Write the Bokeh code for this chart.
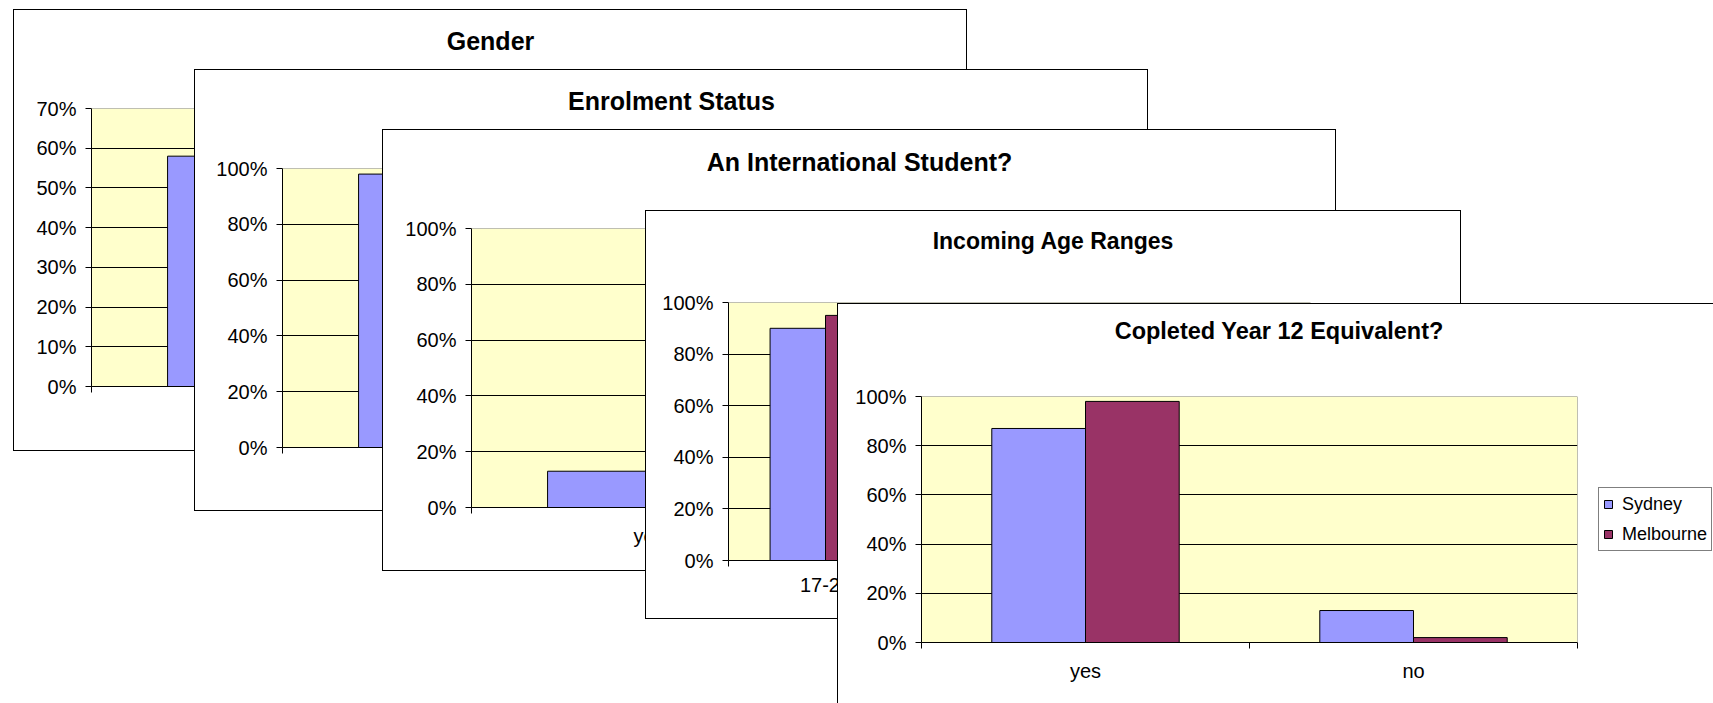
from bokeh.embed import file_html
from bokeh.resources import INLINE
from bokeh.plotting import figure
from bokeh.models import (Range1d, FixedTicker, NumeralTickFormatter, Div,
                          Legend, LegendItem, Span, Column)

# ---- survey results (share of respondents) ----
series_names = ["Sydney", "Melbourne"]

gender_title = "Gender"
gender_cats = ["female", "male"]
gender_sydney = [0.58, 0.42]
gender_melbourne = [0.61, 0.39]
gender_ticks = [0, 0.1, 0.2, 0.3, 0.4, 0.5, 0.6, 0.7]

enrol_title = "Enrolment Status"
enrol_cats = ["full-time", "part-time"]
enrol_sydney = [0.98, 0.02]
enrol_melbourne = [0.97, 0.03]

intl_title = "An International Student?"
intl_cats = ["yes", "no"]
intl_sydney = [0.13, 0.87]
intl_melbourne = [0.08, 0.92]

age_title = "Incoming Age Ranges"
age_cats = ["17-25", "26-35", "36+"]
age_sydney = [0.90, 0.08, 0.02]
age_melbourne = [0.95, 0.04, 0.01]

year12_title = "Copleted Year 12 Equivalent?"
year12_cats = ["yes", "no"]
year12_sydney = [0.87, 0.13]
year12_melbourne = [0.98, 0.02]

pct_ticks = [0, 0.2, 0.4, 0.6, 0.8, 1.0]

# ---- styling ----
SYD_COLOR = "#9999FF"
MEL_COLOR = "#993366"
PLOT_BG = "#FFFFCC"
FONT = "Liberation Sans"
LABEL_SIZE = "20px"
BAR_W = 1 / 3.5          # two bars per category, 150% gap

# canvas box (cx, cy, cw, ch), plot-area box (fl, ft, fr, fb),
# title centre (tx, ty) and title size, all in page pixels
GEOM = {
    "gender": dict(cx=14, cy=10, cw=952, ch=440, fl=91, ft=108, fr=799, fb=384,
                   tx=485.5, ty=36, ts=25),
    "enrol": dict(cx=195, cy=70, cw=952, ch=440, fl=282, ft=168, fr=990, fb=445,
                  tx=666.5, ty=96, ts=25),
    "intl": dict(cx=383, cy=130, cw=952, ch=440, fl=471, ft=228, fr=1179, fb=505,
                 tx=854.5, ty=156.5, ts=25),
    "age": dict(cx=646, cy=211, cw=814, ch=407, fl=728, ft=302, fr=1308, fb=558,
                tx=1048, ty=236, ts=23),
    "year12": dict(cx=838, cy=304, cw=None, ch=399, fl=921, ft=396, fr=1576, fb=641,
                   tx=1274, ty=325.5, ts=23.5),
}
LEGEND_GAP = 21   # space between plot area and legend box


def make_panel(title, cats, syd, mel, ticks, g, with_legend=False, full_border=True):
    n = len(cats)
    ymax = ticks[-1]
    if g["cw"] is None:
        # plot area fixed, canvas grows with the legend column on the right
        size = dict(frame_width=g["fr"] - g["fl"], frame_height=g["fb"] - g["ft"],
                    min_border_right=LEGEND_GAP)
    else:
        size = dict(width=g["cw"], height=g["ch"],
                    min_border_right=g["cx"] + g["cw"] - g["fr"])
    p = figure(x_range=Range1d(-0.5, n - 0.5), y_range=Range1d(0, ymax),
               output_backend="svg", toolbar_location=None, tools="",
               title=None, frame_align=False,
               min_border_left=g["fl"] - g["cx"],
               min_border_top=g["ft"] - g["cy"],
               min_border_bottom=g["cy"] + g["ch"] - g["fb"],
               background_fill_color=PLOT_BG, border_fill_color="white",
               outline_line_color=None, **size)

    xs_syd = [i - BAR_W / 2 for i in range(n)]
    xs_mel = [i + BAR_W / 2 for i in range(n)]
    r_syd = p.vbar(x=xs_syd, top=syd, bottom=0, width=BAR_W,
                   fill_color=SYD_COLOR, line_color="black", line_width=1)
    r_mel = p.vbar(x=xs_mel, top=mel, bottom=0, width=BAR_W,
                   fill_color=MEL_COLOR, line_color="black", line_width=1)

    # y axis
    yax = p.yaxis[0]
    yax.ticker = FixedTicker(ticks=ticks)
    yax.formatter = NumeralTickFormatter(format="0%")
    yax.axis_line_color = "black"
    yax.major_tick_line_color = "black"
    yax.major_tick_out = 6
    yax.major_tick_in = 0
    yax.minor_tick_out = 0
    yax.minor_tick_line_color = None
    yax.major_label_standoff = 9
    yax.major_label_text_font = FONT
    yax.major_label_text_font_size = LABEL_SIZE
    yax.major_label_text_color = "black"

    # category axis: labels at centres, ticks on category boundaries
    xax = p.xaxis[0]
    xax.ticker = FixedTicker(ticks=list(range(n)),
                             minor_ticks=[i - 0.5 for i in range(n + 1)])
    xax.major_label_overrides = {i: c for i, c in enumerate(cats)}
    xax.major_tick_line_color = None
    xax.major_tick_out = 0
    xax.major_tick_in = 0
    xax.minor_tick_line_color = "black"
    xax.minor_tick_out = 6
    xax.minor_tick_in = 0
    xax.axis_line_color = "black"
    xax.major_label_standoff = 11
    xax.major_label_text_font = FONT
    xax.major_label_text_font_size = LABEL_SIZE
    xax.major_label_text_color = "black"

    p.xgrid.visible = False
    p.ygrid.grid_line_color = "black"
    p.ygrid.grid_line_width = 1

    # plot area frame (top and right edges in grey)
    p.add_layout(Span(location=ymax, dimension="width", line_color="#808080", line_width=1))
    p.add_layout(Span(location=n - 0.5, dimension="height", line_color="#808080", line_width=1))

    if with_legend:
        leg = Legend(items=[LegendItem(label=series_names[0], renderers=[r_syd]),
                            LegendItem(label=series_names[1], renderers=[r_mel])],
                     location="left", orientation="vertical",
                     border_line_color="black", border_line_width=1,
                     background_fill_color="white", background_fill_alpha=1.0,
                     padding=4, margin=LEGEND_GAP, spacing=6,
                     glyph_width=10, glyph_height=10, label_height=24,
                     label_standoff=9, label_text_font=FONT,
                     label_text_font_size="18px", label_text_color="black")
        p.add_layout(leg, "right")

    border = ({"border": "1px solid black"} if full_border else
              {"border-top": "1px solid black", "border-left": "1px solid black"})
    p.styles = {"position": "absolute", "left": f"{g['cx'] - 1}px",
                "top": f"{g['cy'] - 1}px", "box-sizing": "content-box",
                "background": "white", **border}

    # chart title, centred on the chart box
    ts = g["ts"]
    line_h = round(ts * 1.2)
    head = Div(text=title, width=600, height=line_h,
               styles={"position": "absolute",
                       "left": f"{g['tx'] - 300}px",
                       "top": f"{g['ty'] - line_h / 2}px",
                       "text-align": "center", "white-space": "nowrap",
                       "font-family": FONT, "font-weight": "bold",
                       "font-size": f"{ts}px", "line-height": f"{line_h}px",
                       "color": "black"})
    return [p, head]


parts = []
parts += make_panel(gender_title, gender_cats, gender_sydney, gender_melbourne,
                    gender_ticks, GEOM["gender"])
parts += make_panel(enrol_title, enrol_cats, enrol_sydney, enrol_melbourne,
                    pct_ticks, GEOM["enrol"])
parts += make_panel(intl_title, intl_cats, intl_sydney, intl_melbourne,
                    pct_ticks, GEOM["intl"])
parts += make_panel(age_title, age_cats, age_sydney, age_melbourne,
                    pct_ticks, GEOM["age"])
parts += make_panel(year12_title, year12_cats, year12_sydney, year12_melbourne,
                    pct_ticks, GEOM["year12"], with_legend=True, full_border=False)

p = Column(children=parts, width=1713, height=703, sizing_mode="fixed",
           styles={"position": "relative", "overflow": "hidden",
                   "background": "white"})

open("out.html", "w").write(file_html(p, INLINE))
